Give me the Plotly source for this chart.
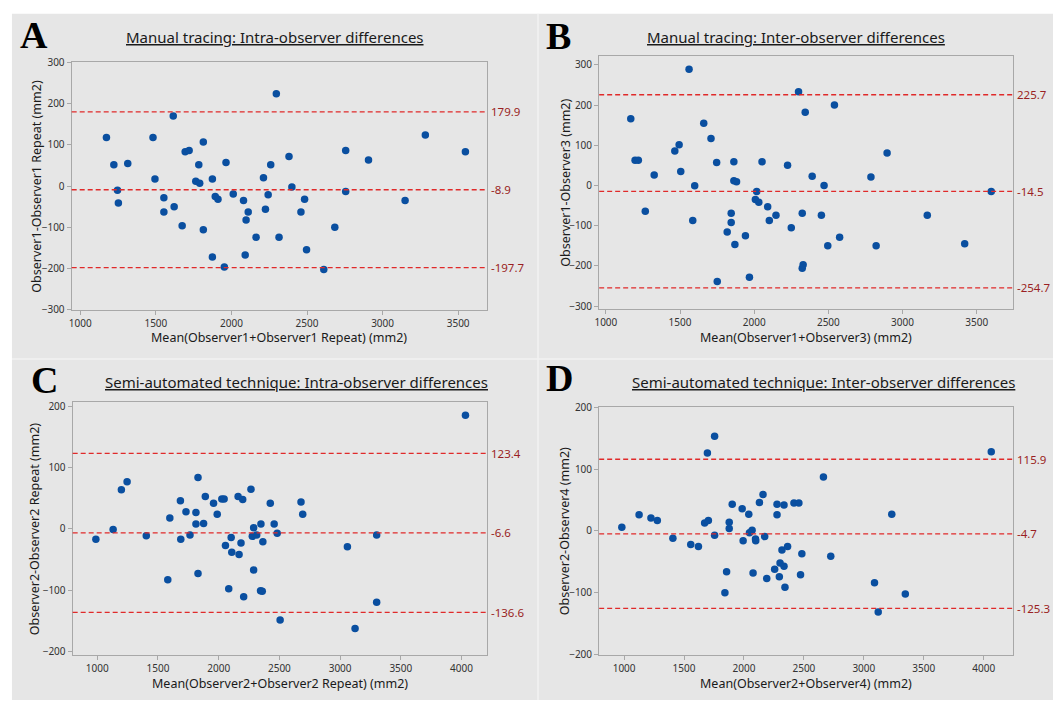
import plotly.graph_objects as go

W, H = 1053, 707

# ---------------- data ----------------
a_x = [1173, 1222, 1246, 1252, 1314, 1481, 1494, 1553, 1553, 1615, 1621, 1674, 1694, 1720, 1764, 1784, 1790,
       1814, 1814, 1874, 1874, 1893, 1911, 1953, 1964, 2012, 2080, 2091, 2097, 2111, 2163, 2212, 2225, 2243,
       2260, 2297, 2315, 2381, 2400, 2460, 2484, 2497, 2611, 2684, 2756, 2756, 2907, 3149, 3283, 3548]
a_y = [118, 52, -10, -41, 55, 118, 17, -28, -63, 170, -50, -96, 83, 86, 12, 52, 7,
       107, -106, 17, -172, -25, -32, -196, 57, -19, -35, -167, -82, -63, -124, 20, -56, -21,
       52, 224, -124, 72, -2, -63, -32, -154, -202, -100, 86, -13, 63, -35, 124, 83]
a_lines = [179.9, -8.9, -197.7]

b_x = [1168, 1197, 1219, 1266, 1326, 1465, 1494, 1505, 1561, 1586, 1599, 1660, 1709, 1747, 1751, 1818, 1845,
       1845, 1863, 1863, 1881, 1870, 1941, 1968, 2017, 2008, 2031, 2053, 2091, 2102, 2147, 2225, 2250, 2299,
       2324, 2330, 2324, 2344, 2391, 2453, 2471, 2496, 2541, 2576, 2787, 2822, 2896, 3167, 3419, 3598]
b_y = [166, 63, 63, -64, 26, 86, 101, 35, 289, -87, -1, 155, 117, 57, -239, -116, -69,
       -92, 59, 12, 9, -147, -125, -228, -15, -35, -42, 59, -53, -87, -74, 50, -105, 233,
       -69, -197, -206, 182, 23, -74, 0, -150, 200, -129, 21, -150, 81, -74, -145, -15]
b_lines = [225.7, -14.5, -254.7]

c_x = [989, 1131, 1199, 1246, 1404, 1581, 1598, 1685, 1688, 1731, 1764, 1813, 1813, 1830, 1830, 1876, 1890,
       1958, 1988, 2026, 2045, 2056, 2083, 2103, 2108, 2160, 2168, 2184, 2198, 2206, 2266, 2277, 2288, 2288,
       2313, 2345, 2359, 2348, 2364, 2425, 2457, 2482, 2506, 2678, 2692, 3060, 3123, 3301, 3301, 4032]
c_y = [-17, -1, 64, 77, -11, -83, 18, 46, -17, 28, -10, 27, 8, 84, -73, 9, 53,
       42, 24, 49, 49, -27, -98, -14, -38, 53, -42, -23, 48, -111, 65, -12, 2, -67,
       -10, -101, -102, 8, -21, 42, 8, -7, -149, 44, 24, -29, -163, -10, -120, 186]
c_lines = [123.4, -6.6, -136.6]

d_x = [981, 1125, 1224, 1277, 1407, 1556, 1620, 1672, 1695, 1703, 1755, 1755, 1841, 1855, 1877, 1877, 1902,
       1985, 1993, 2040, 2046, 2068, 2076, 2096, 2098, 2129, 2159, 2173, 2190, 2256, 2276, 2276, 2295, 2301,
       2317, 2334, 2334, 2342, 2364, 2417, 2458, 2472, 2483, 2663, 2724, 3089, 3120, 3233, 3346, 4063]
d_y = [6, 26, 21, 17, -12, -22, -25, 13, 126, 17, 153, -7, -100, -66, 14, 4, 43,
       36, -16, 27, -3, 1, -68, -13, -16, 46, 59, -9, -77, -62, 43, 26, -74, -52,
       -31, 42, -57, -91, -25, 45, 45, -71, -37, 87, -41, -84, -131, 27, -102, 128]
d_lines = [115.9, -4.7, -125.3]

letters = ["A", "B", "C", "D"]
titles = ["Manual tracing: Intra-observer differences",
          "Manual tracing: Inter-observer differences",
          "Semi-automated technique: Intra-observer differences",
          "Semi-automated technique: Inter-observer differences"]
x_titles = ["Mean(Observer1+Observer1 Repeat) (mm2)",
            "Mean(Observer1+Observer3) (mm2)",
            "Mean(Observer2+Observer2 Repeat) (mm2)",
            "Mean(Observer2+Observer4) (mm2)"]
y_titles = ["Observer1-Observer1 Repeat (mm2)",
            "Observer1-Observer3 (mm2)",
            "Observer2-Observer2 Repeat (mm2)",
            "Observer2-Observer4 (mm2)"]
x_ticks = [[1000, 1500, 2000, 2500, 3000, 3500]] * 2 + [[1000, 1500, 2000, 2500, 3000, 3500, 4000]] * 2
y_ticks = [[-300, -200, -100, 0, 100, 200, 300]] * 2 + [[-200, -100, 0, 100, 200]] * 2

# ---------------- layout geometry (pixels) ----------------
boxes = [(67, 484, 56, 309), (597, 1013, 50, 308), (68, 484, 403, 661), (597, 1013, 408, 661)]
x_ranges = [[943, 3689], [955, 3746], [798, 4207], [792, 4246]]
y_ranges = [[-300, 301], [-307, 322], [-206, 207.5], [-200.5, 200.5]]
letter_pos = [(29, 29), (556, 30), (40, 381), (557, 379)]
title_pos = [(271, 31), (795, 31), (293, 383), (822, 383)]
ytitle_x = [32, 563, 30, 563]
xtitle_y = [337, 337, 690, 690]

xs = [a_x, b_x, c_x, d_x]
ys = [a_y, b_y, c_y, d_y]
lines = [a_lines, b_lines, c_lines, d_lines]

FONT = "Noto Sans"
AX = "#a8a8a8"
fig = go.Figure()
shapes = []
annotations = []


def px(x):
    return x / W


def py(y):
    return 1 - y / H


# gray background and dividers
shapes.append(dict(type="rect", xref="paper", yref="paper", x0=px(7), x1=1, y0=0, y1=py(7),
                   fillcolor="#e6e6e6", line=dict(width=0), layer="below"))
shapes.append(dict(type="line", xref="paper", yref="paper", x0=px(535.5), x1=px(535.5), y0=0, y1=py(7),
                   line=dict(color="#f2f2f2", width=1.5), layer="below"))
shapes.append(dict(type="line", xref="paper", yref="paper", x0=px(7), x1=1, y0=py(359), y1=py(359),
                   line=dict(color="#f2f2f2", width=1.5), layer="below"))

for i in range(4):
    n = i + 1
    xa = "x" if n == 1 else f"x{n}"
    ya = "y" if n == 1 else f"y{n}"
    l, r, t, b = boxes[i]
    fig.add_trace(go.Scatter(x=xs[i], y=ys[i], mode="markers", xaxis=xa, yaxis=ya,
                             marker=dict(color="#0a4fa0", size=7.5, line=dict(width=0)),
                             showlegend=False, hoverinfo="x+y"))
    axis_common = dict(showgrid=False, zeroline=False, showline=True, linecolor=AX, linewidth=1.2, mirror=True,
                       ticks="outside", ticklen=4, tickcolor=AX, tickwidth=1,
                       tickfont=dict(family=FONT, size=10, color="#333333"), fixedrange=True)
    fig.update_layout(**{
        ("xaxis" if n == 1 else f"xaxis{n}"): dict(axis_common, domain=[px(l), px(r)], range=x_ranges[i],
                                                   tickvals=x_ticks[i], anchor=ya),
        ("yaxis" if n == 1 else f"yaxis{n}"): dict(axis_common, domain=[py(b), py(t)], range=y_ranges[i],
                                                   tickvals=y_ticks[i], anchor=xa),
    })
    xd = f"{xa} domain"
    for v in lines[i]:
        shapes.append(dict(type="line", xref=xd, yref=ya, x0=0, x1=1, y0=v, y1=v,
                           line=dict(color="#e02a2a", width=1.3, dash="5px,3px")))
        annotations.append(dict(xref=xd, yref=ya, x=1, y=v, text=f"{v:.1f}", showarrow=False,
                                xanchor="left", yanchor="middle", xshift=2,
                                font=dict(family=FONT, size=11.5, color="#9a1f23")))
    lx, ly = letter_pos[i]
    annotations.append(dict(xref="paper", yref="paper", x=px(lx), y=py(ly), text=f"<b>{letters[i]}</b>",
                            showarrow=False, xanchor="center", yanchor="middle",
                            font=dict(family="Liberation Serif", size=38, color="#000000")))
    tx, ty = title_pos[i]
    annotations.append(dict(xref="paper", yref="paper", x=px(tx), y=py(ty), text=f"<u>{titles[i]}</u>",
                            showarrow=False, xanchor="center", yanchor="middle",
                            font=dict(family=FONT, size=15, color="#1a1a1a")))
    annotations.append(dict(xref="paper", yref="paper", x=px((l + r) / 2), y=py(xtitle_y[i]), text=x_titles[i],
                            showarrow=False, xanchor="center", yanchor="middle",
                            font=dict(family=FONT, size=12.5, color="#1a1a1a")))
    annotations.append(dict(xref="paper", yref="paper", x=px(ytitle_x[i]), y=py((t + b) / 2), text=y_titles[i],
                            showarrow=False, xanchor="center", yanchor="middle", textangle=-90,
                            font=dict(family=FONT, size=12.5, color="#1a1a1a")))

fig.update_layout(width=W, height=H, margin=dict(l=0, r=0, t=0, b=0), paper_bgcolor="white",
                  plot_bgcolor="white", shapes=shapes, annotations=annotations, showlegend=False)

fig.write_html("out.html", config={"displayModeBar": False},
               post_script="document.body.style.margin='0px';document.body.style.overflow='hidden';")
